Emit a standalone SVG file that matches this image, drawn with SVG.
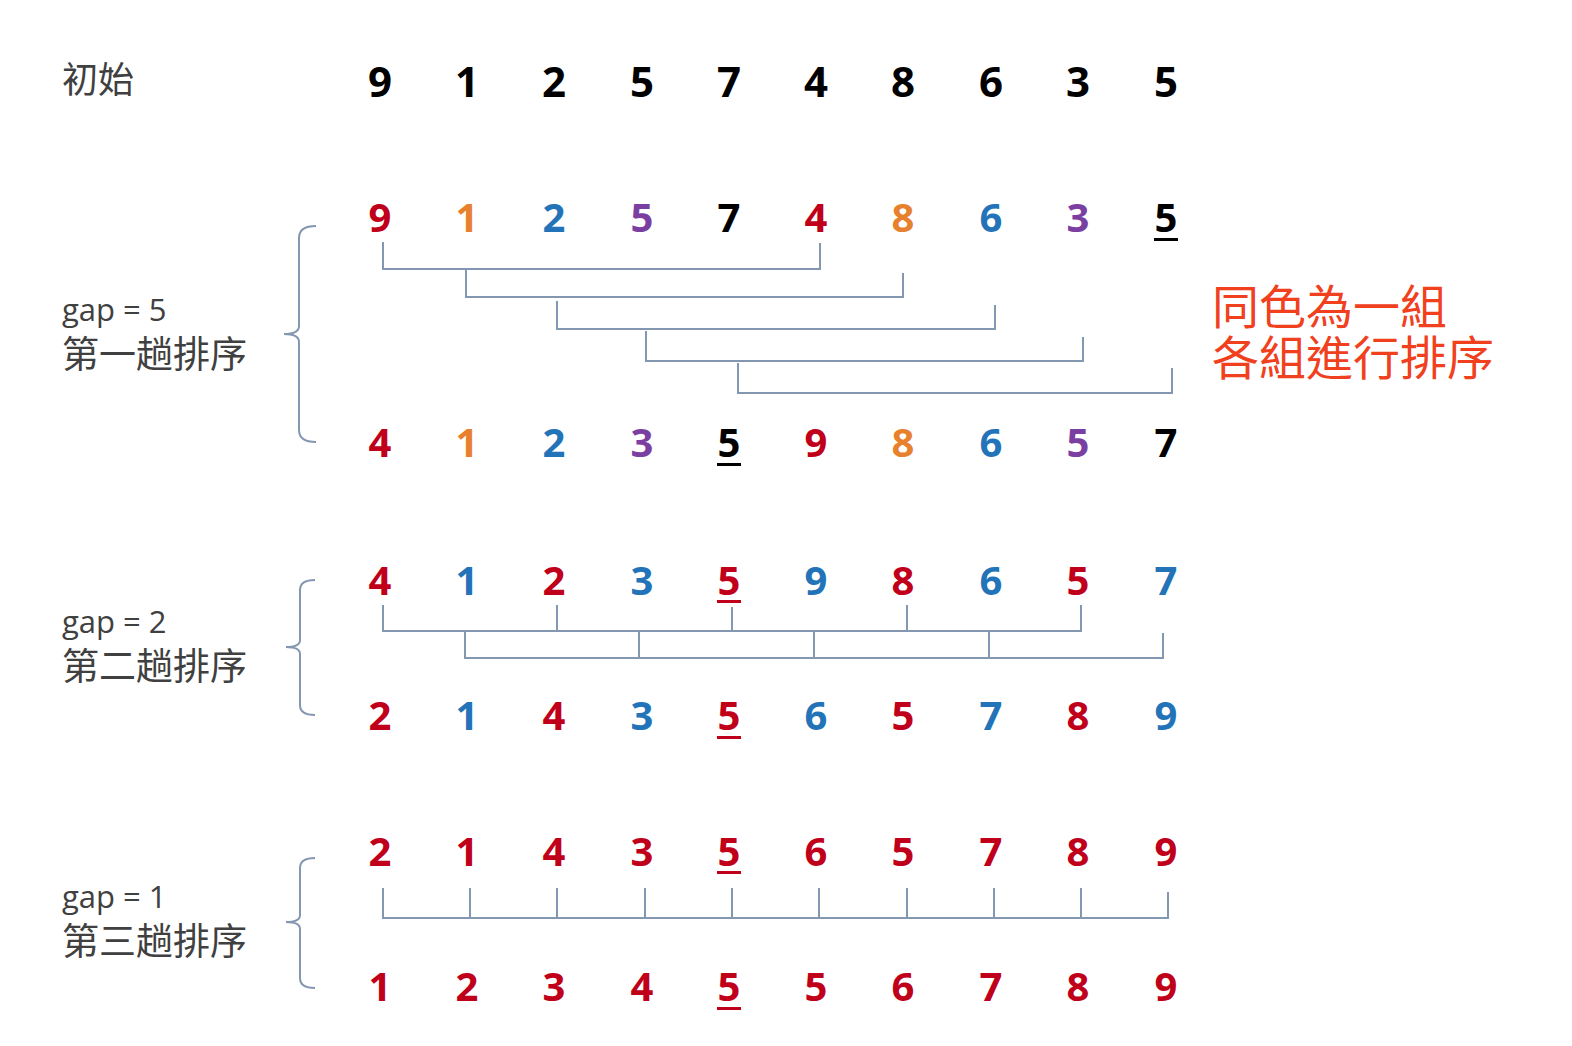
<svg xmlns="http://www.w3.org/2000/svg" width="1572" height="1046" viewBox="0 0 1572 1046">
<style>
.d{font-family:"Open Sans","Liberation Sans",sans-serif;font-weight:700;font-size:40px;text-anchor:middle}
.d0{font-size:42px}
.r{fill:#C0001A}.o{fill:#E8812E}.b{fill:#2373B8}.p{fill:#7A3FA0}.k{fill:#000}
.lbl{font-family:"Open Sans","Liberation Sans",sans-serif;font-size:31px;fill:#404040}
.cjk{font-family:"Noto Sans CJK TC","Noto Sans CJK SC",sans-serif;font-size:37px;fill:#404040}
.cjk0{font-size:36px}
.note{font-family:"Noto Sans CJK TC","Noto Sans CJK SC",sans-serif;font-size:47px;fill:#F0401E}
.ln{stroke:#8497B0;stroke-width:2;fill:none}
.ul-k{fill:#000}.ul-r{fill:#C0001A}
</style>
<rect width="1572" height="1046" fill="#fff"/>

<g id="labels">
<text class="cjk cjk0" x="62" y="93">初始</text>
<text class="lbl" x="62" y="321">gap = 5</text>
<text class="cjk" x="62" y="368">第一趟排序</text>
<text class="lbl" x="62" y="633">gap = 2</text>
<text class="cjk" x="62" y="680">第二趟排序</text>
<text class="lbl" x="62" y="908">gap = 1</text>
<text class="cjk" x="62" y="955">第三趟排序</text>
</g>

<g id="note">
<text class="note" x="1212" y="324">同色為一組</text>
<text class="note" x="1212" y="375">各組進行排序</text>
</g>

<g id="row-initial">
<text class="d d0 k" x="380" y="97">9</text>
<text class="d d0 k" x="467" y="97">1</text>
<text class="d d0 k" x="554" y="97">2</text>
<text class="d d0 k" x="642" y="97">5</text>
<text class="d d0 k" x="729" y="97">7</text>
<text class="d d0 k" x="816" y="97">4</text>
<text class="d d0 k" x="903" y="97">8</text>
<text class="d d0 k" x="991" y="97">6</text>
<text class="d d0 k" x="1078" y="97">3</text>
<text class="d d0 k" x="1166" y="97">5</text>
</g>

<g id="gap5-before">
<text class="d r" x="380" y="232">9</text>
<text class="d o" x="467" y="232">1</text>
<text class="d b" x="554" y="232">2</text>
<text class="d p" x="642" y="232">5</text>
<text class="d k" x="729" y="232">7</text>
<text class="d r" x="816" y="232">4</text>
<text class="d o" x="903" y="232">8</text>
<text class="d b" x="991" y="232">6</text>
<text class="d p" x="1078" y="232">3</text>
<text class="d k" x="1166" y="232">5</text>
<rect class="ul-k" x="1154" y="238" width="24" height="3"/>
</g>

<g id="gap5-after">
<text class="d r" x="380" y="457">4</text>
<text class="d o" x="467" y="457">1</text>
<text class="d b" x="554" y="457">2</text>
<text class="d p" x="642" y="457">3</text>
<text class="d k" x="729" y="457">5</text>
<rect class="ul-k" x="717" y="463" width="24" height="3"/>
<text class="d r" x="816" y="457">9</text>
<text class="d o" x="903" y="457">8</text>
<text class="d b" x="991" y="457">6</text>
<text class="d p" x="1078" y="457">5</text>
<text class="d k" x="1166" y="457">7</text>
</g>

<g id="gap2-before">
<text class="d r" x="380" y="595">4</text>
<text class="d b" x="467" y="595">1</text>
<text class="d r" x="554" y="595">2</text>
<text class="d b" x="642" y="595">3</text>
<text class="d r" x="729" y="595">5</text>
<rect class="ul-r" x="717" y="600" width="24" height="3"/>
<text class="d b" x="816" y="595">9</text>
<text class="d r" x="903" y="595">8</text>
<text class="d b" x="991" y="595">6</text>
<text class="d r" x="1078" y="595">5</text>
<text class="d b" x="1166" y="595">7</text>
</g>

<g id="gap2-after">
<text class="d r" x="380" y="730">2</text>
<text class="d b" x="467" y="730">1</text>
<text class="d r" x="554" y="730">4</text>
<text class="d b" x="642" y="730">3</text>
<text class="d r" x="729" y="730">5</text>
<rect class="ul-r" x="717" y="736" width="24" height="3"/>
<text class="d b" x="816" y="730">6</text>
<text class="d r" x="903" y="730">5</text>
<text class="d b" x="991" y="730">7</text>
<text class="d r" x="1078" y="730">8</text>
<text class="d b" x="1166" y="730">9</text>
</g>

<g id="gap1-before">
<text class="d r" x="380" y="866">2</text>
<text class="d r" x="467" y="866">1</text>
<text class="d r" x="554" y="866">4</text>
<text class="d r" x="642" y="866">3</text>
<text class="d r" x="729" y="866">5</text>
<rect class="ul-r" x="717" y="871" width="24" height="3"/>
<text class="d r" x="816" y="866">6</text>
<text class="d r" x="903" y="866">5</text>
<text class="d r" x="991" y="866">7</text>
<text class="d r" x="1078" y="866">8</text>
<text class="d r" x="1166" y="866">9</text>
</g>

<g id="gap1-after">
<text class="d r" x="380" y="1001">1</text>
<text class="d r" x="467" y="1001">2</text>
<text class="d r" x="554" y="1001">3</text>
<text class="d r" x="642" y="1001">4</text>
<text class="d r" x="729" y="1001">5</text>
<rect class="ul-r" x="717" y="1007" width="24" height="3"/>
<text class="d r" x="816" y="1001">5</text>
<text class="d r" x="903" y="1001">6</text>
<text class="d r" x="991" y="1001">7</text>
<text class="d r" x="1078" y="1001">8</text>
<text class="d r" x="1166" y="1001">9</text>
</g>

<g id="connectors">
<path class="ln" d="M316,226 Q299,226 299,238 V326 Q299,334 284,334 Q299,334 299,342 V430 Q299,442 316,442"/>
<path class="ln" d="M315,580 Q300,580 300,590 V640 Q300,647 286,647 Q300,647 300,654 V705 Q300,715 315,715"/>
<path class="ln" d="M315,858 Q300,858 300,868 V915 Q300,922 286,922 Q300,922 300,929 V978 Q300,988 315,988"/>
<path class="ln" d="M383,242 V269 H820 V243"/>
<path class="ln" d="M466,269 V297 H903 V273"/>
<path class="ln" d="M557,301 V329 H995 V305"/>
<path class="ln" d="M646,331 V361 H1083 V337"/>
<path class="ln" d="M738,363 V393 H1172 V368"/>
<path class="ln" d="M383,605 V631 H1081 V605"/>
<path class="ln" d="M557,605 V631 M732,607 V631 M907,605 V631"/>
<path class="ln" d="M465,631 V658 H1163 V633"/>
<path class="ln" d="M639,631 V658 M814,631 V658 M989,631 V658"/>
<path class="ln" d="M383,888 V918 H1168 V892"/>
<path class="ln" d="M470,888 V918 M557,888 V918 M645,888 V918 M732,888 V918 M819,888 V918 M907,888 V918 M994,888 V918 M1081,888 V918"/>
</g>
</svg>
